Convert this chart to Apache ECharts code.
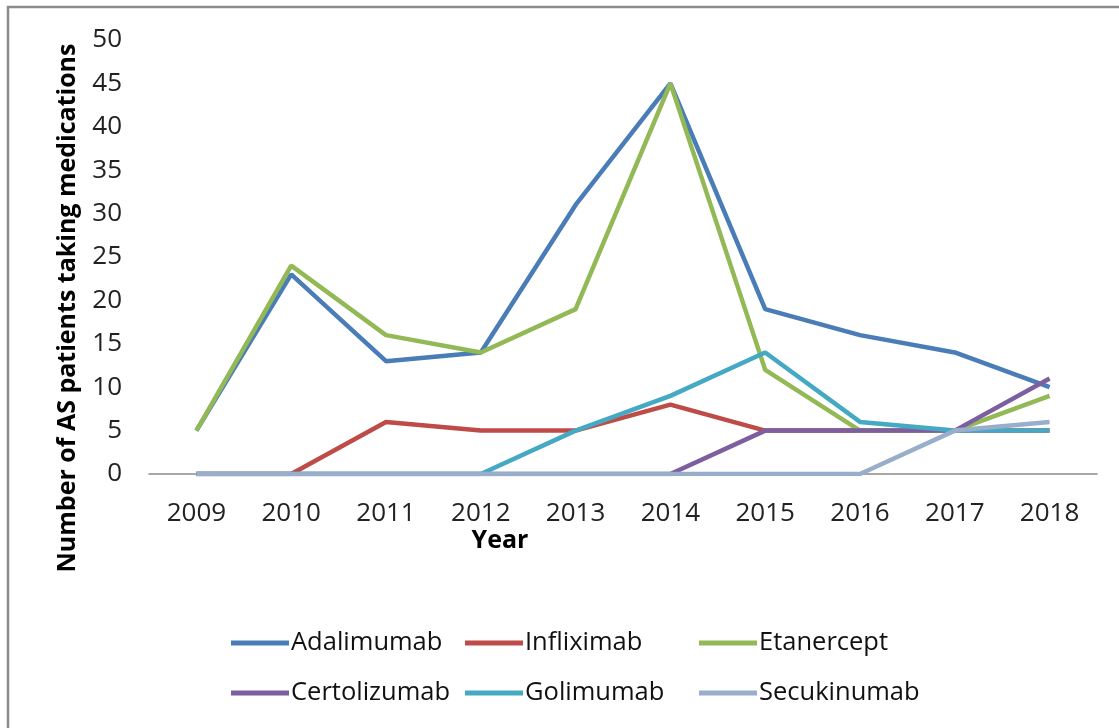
<!DOCTYPE html>
<html>
<head>
<meta charset="utf-8">
<script src="https://cdn.jsdelivr.net/npm/echarts@6/dist/echarts.min.js"></script>
<style>
html,body{margin:0;padding:0;background:#fff;}
#chart{width:1119px;height:728px;}
</style>
</head>
<body>
<div id="chart"></div>
<script>
const years = ['2009','2010','2011','2012','2013','2014','2015','2016','2017','2018'];
const adalimumab   = [5, 23, 13, 14, 31, 45, 19, 16, 14, 10];
const infliximab   = [0, 0, 6, 5, 5, 8, 5, 5, 5, 5];
const etanercept   = [5, 24, 16, 14, 19, 45, 12, 5, 5, 9];
const certolizumab = [0, 0, 0, 0, 0, 0, 5, 5, 5, 11];
const golimumab    = [0, 0, 0, 0, 5, 9, 14, 6, 5, 5];
const secukinumab  = [0, 0, 0, 0, 0, 0, 0, 0, 5, 6];
const yTicks = [0, 5, 10, 15, 20, 25, 30, 35, 40, 45, 50];

const names = ['Adalimumab','Infliximab','Etanercept','Certolizumab','Golimumab','Secukinumab'];
const values = [adalimumab, infliximab, etanercept, certolizumab, golimumab, secukinumab];
const colors = ['#4A7DB8','#BE4B48','#93B957','#7D5FA0','#46A9C4','#98AECB'];

const font = "'Open Sans', sans-serif";
const chart = echarts.init(document.getElementById('chart'));

function legendCol(items, left) {
  return {
    orient: 'vertical', left: left, top: 625, itemGap: 24,
    icon: 'rect', itemWidth: 58, itemHeight: 5,
    textStyle: {fontFamily: font, fontSize: 25.5, color: '#111', padding: [0,0,0,-3]},
    data: items
  };
}

chart.setOption({
  animation: false,
  backgroundColor: '#fff',
  grid: {left: 149, right: 22, top: 40, bottom: 254},
  xAxis: {
    type: 'category', data: years, boundaryGap: true,
    axisLine: {lineStyle: {color: '#8a8a8a', width: 1.5}},
    axisTick: {show: false},
    axisLabel: {fontFamily: font, fontSize: 26, color: '#222', margin: 27}
  },
  yAxis: {
    type: 'value', min: yTicks[0], max: yTicks[yTicks.length-1], interval: 5,
    axisLine: {show: false}, axisTick: {show: false}, splitLine: {show: false},
    axisLabel: {fontFamily: font, fontSize: 26, color: '#222', margin: 27}
  },
  legend: [
    legendCol([names[0], names[3]], 226),
    legendCol([names[1], names[4]], 460),
    legendCol([names[2], names[5]], 694)
  ],
  graphic: [
    {type: 'rect', shape: {x: 8, y: 7, width: 1300, height: 900},
     style: {fill: 'none', stroke: '#8c8c8c', lineWidth: 2.5}, z: 100},
    {type: 'text', x: 68, y: 308, rotation: Math.PI/2,
     style: {text: 'Number of AS patients taking medications', fontFamily: font,
             fontSize: 25, fontWeight: 'bold', fill: '#000', align: 'center', verticalAlign: 'middle'}},
    {type: 'text', x: 500, y: 541,
     style: {text: 'Year', fontFamily: font, fontSize: 25, fontWeight: 'bold', fill: '#000',
             align: 'center', verticalAlign: 'middle'}}
  ],
  series: names.map((n, i) => ({
    name: n, type: 'line', data: values[i], symbol: 'none',
    lineStyle: {width: 4.5, color: colors[i]}, itemStyle: {color: colors[i]},
    z: 2 + i
  }))
});
</script>
</body>
</html>
